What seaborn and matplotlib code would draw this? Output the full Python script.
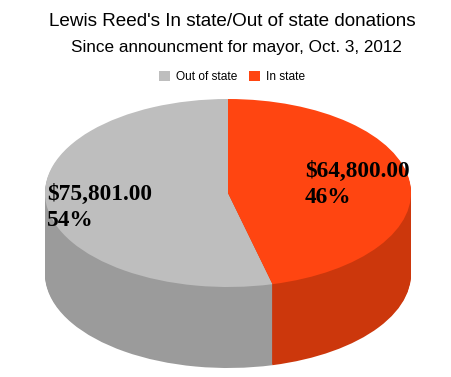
import matplotlib
matplotlib.use("Agg")
import matplotlib.pyplot as plt
import numpy as np
import seaborn as sns

categories = ["Out of state", "In state"]
donations = [75801.00, 64800.00]
percents = [54, 46]
top_colors = ["#bebebe", "#ff4511"]
side_colors = ["#9b9b9b", "#cc370c"]

W, H = 452, 377

sns.set_theme(style="white")
plt.rcParams["font.family"] = ["Liberation Sans", "DejaVu Sans"]

fig = plt.figure(figsize=(W / 100, H / 100), dpi=100)
ax = fig.add_axes([0, 0, 1, 1])

# pie centre and radii in pixels, the ellipse comes from the unequal axis scale
cx, cy, rx, ry = 228, 193, 183, 94
depth = 81

# side wall: the same pie stacked downwards, one pixel at a time
for d in range(depth, 0, -1):
    ax.pie(donations, colors=side_colors, startangle=90, center=(0, -d / ry),
           wedgeprops={"linewidth": 0.5, "edgecolor": "none"})

wedges, _ = ax.pie(donations, colors=top_colors, startangle=90,
                   wedgeprops={"linewidth": 0})

ax.set_aspect("auto")
ax.set_xlim(-cx / rx, (W - cx) / rx)
ax.set_ylim((cy - H) / ry, cy / ry)
ax.set_position([0, 0, 1, 1])


def fx(px):
    return px / W


def fy(py):
    return 1 - py / H


fig.text(fx(232.5), fy(26), "Lewis Reed's In state/Out of state donations",
         ha="center", va="baseline", fontsize=13.6, color="black")
fig.text(fx(236.5), fy(52), "Since announcment for mayor, Oct. 3, 2012",
         ha="center", va="baseline", fontsize=12.35, color="black")

fig.legend(wedges, categories, loc="center", bbox_to_anchor=(fx(232), fy(77)),
           ncol=2, frameon=False, fontsize=8.6, handlelength=0.95,
           handleheight=0.95, handletextpad=0.45, columnspacing=1.0,
           borderpad=0, labelcolor="black")

label_pos = [(47, 200), (305, 177)]
for (x, y), amount, pct in zip(label_pos, donations, percents):
    fig.text(fx(x), fy(y), f"\\${amount:,.2f}", ha="left", va="baseline",
             family="Liberation Serif", weight="bold", fontsize=16.8, color="black")
    fig.text(fx(x), fy(y + 26), f"{pct}%", ha="left", va="baseline",
             family="Liberation Serif", weight="bold", fontsize=16.8, color="black")

fig.savefig("out.png", dpi=100, facecolor="white")
